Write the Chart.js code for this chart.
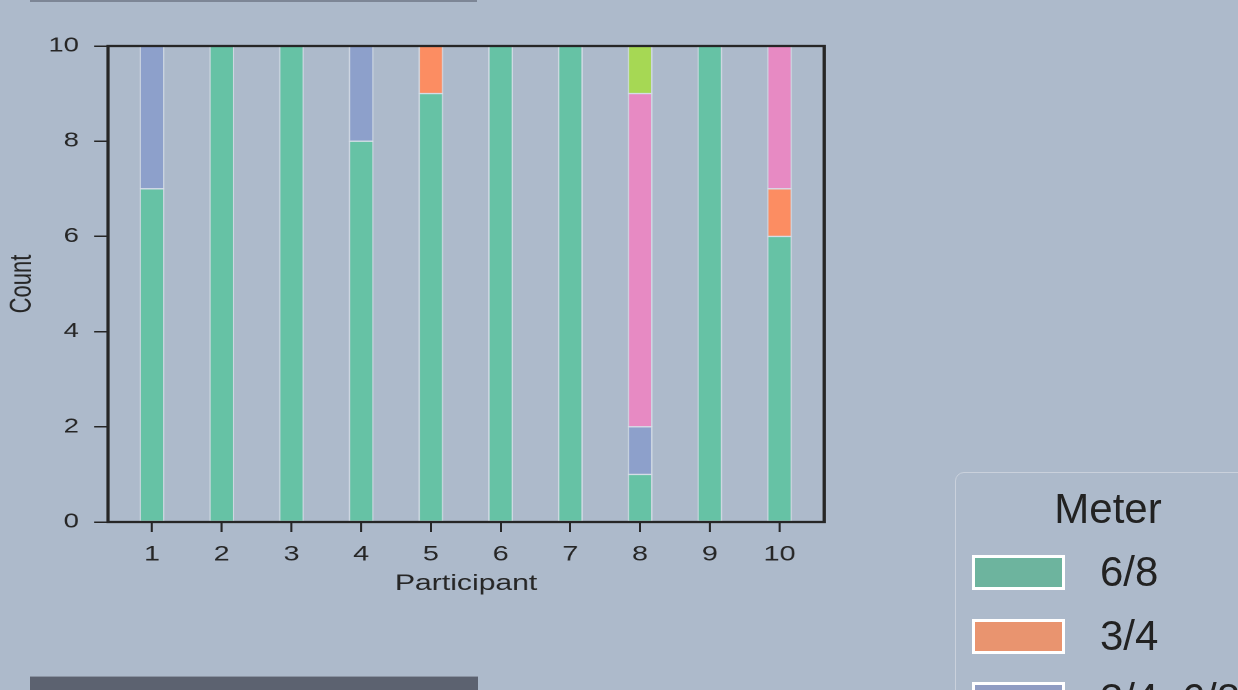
<!DOCTYPE html>
<html>
<head>
<meta charset="utf-8">
<script src="https://cdn.jsdelivr.net/npm/chart.js@4.4.1/dist/chart.umd.min.js"></script>
<style>
  html, body { margin:0; padding:0; width:1238px; height:690px; overflow:hidden; background:#adbacb; font-family:"Liberation Sans", Arial, sans-serif; }
  #wrap { position:absolute; left:0; top:0; width:904px; height:690px; transform:scaleX(1.3695); transform-origin:0 0; }
  .deco-top { position:absolute; left:30px; top:0; width:447px; height:1.5px; background:#7d8696; }
  .deco-bot { position:absolute; left:30px; top:676px; width:448px; height:14px; background:#5c6270; border-top:1px solid #8b94a3; box-sizing:border-box; }
  #legend { position:absolute; left:955px; top:472px; width:420px; height:320px; border:1.5px solid rgba(205,212,222,0.9); border-radius:9px; box-sizing:border-box; }
  #legend .title { position:absolute; left:0; width:304px; top:12px; text-align:center; font-size:42px; color:#222; line-height:48px; }
  #legend .item { position:absolute; left:16px; height:36px; }
  #legend .patch { position:absolute; left:0; top:0; width:87px; height:29px; border:3px solid #fff; }
  #legend .lab { position:absolute; left:128px; top:-7px; font-size:42px; line-height:48px; color:#222; white-space:nowrap; }
</style>
</head>
<body>
<div class="deco-top"></div>
<div id="wrap"><canvas id="c" width="904" height="690"></canvas></div>
<div class="deco-bot"></div>
<div id="legend"><div class="title">Meter</div></div>
<script>
// ---- data ----
const participants = [1, 2, 3, 4, 5, 6, 7, 8, 9, 10];
const meterNames = ['6/8', '3/4', '3/4, 6/8', '2/4', '4/4'];
const count68 = [7, 10, 10, 8, 9, 10, 10, 1, 10, 6];
const count34 = [0, 0, 0, 0, 1, 0, 0, 0, 0, 1];
const countMixed = [3, 0, 0, 2, 0, 0, 0, 1, 0, 0];
const count24 = [0, 0, 0, 0, 0, 0, 0, 7, 0, 3];
const count44 = [0, 0, 0, 0, 0, 0, 0, 1, 0, 0];
const yTicks = [0, 2, 4, 6, 8, 10];

const barColors = ['#66c2a5', '#fc8d62', '#8da0cb', '#e78ac3', '#a6d854'];
const legendColors = ['#6db49e', '#e9946f', '#909dc3', '#d68bb9', '#a3c95e'];
const seriesValues = [count68, count34, countMixed, count24, count44];

const datasets = seriesValues.map((vals, i) => ({
  label: meterNames[i],
  data: participants.map((p, j) => ({ x: p, y: vals[j] === 0 ? null : vals[j] })),
  backgroundColor: barColors[i],
  borderColor: 'rgba(235,240,245,0.55)',
  borderWidth: 1,
  borderSkipped: false,
  barThickness: 17.5,
  stack: 's'
}));

// HTML legend
const leg = document.getElementById('legend');
meterNames.forEach((name, i) => {
  const it = document.createElement('div');
  it.className = 'item';
  it.style.top = (82 + i * 63.7) + 'px';
  const p = document.createElement('div');
  p.className = 'patch';
  p.style.background = legendColors[i];
  const l = document.createElement('div');
  l.className = 'lab';
  l.textContent = name;
  it.appendChild(p); it.appendChild(l);
  leg.appendChild(it);
});

const ink = '#262626';
const FONT = '"Liberation Sans", Arial, sans-serif';
const framePlugin = {
  id: 'frame',
  afterDraw(chart) {
    const { ctx, chartArea: a } = chart;
    ctx.save();
    ctx.strokeStyle = ink;
    ctx.lineWidth = 2.3;
    ctx.strokeRect(a.left, a.top, a.right - a.left, a.bottom - a.top);
    ctx.restore();
  }
};

new Chart(document.getElementById('c'), {
  type: 'bar',
  data: { datasets },
  plugins: [framePlugin],
  options: {
    responsive: false,
    animation: false,
    devicePixelRatio: 2,
    layout: { padding: { left: 0, right: 302.2, top: 46, bottom: 0 } },
    plugins: { legend: { display: false }, tooltip: { enabled: false } },
    scales: {
      x: {
        type: 'linear',
        stacked: true,
        offset: false,
        min: 0.369,
        max: 10.64,
        afterBuildTicks(scale) { scale.ticks = participants.map(v => ({ value: v })); },
        afterFit(scale) { scale.height = 690 - 522; },
        ticks: { color: ink, font: { size: 21, family: FONT }, padding: 10, maxRotation: 0, autoSkip: false },
        grid: { offset: false, drawOnChartArea: false, drawTicks: true, tickLength: 10, color: ink, lineWidth: 1.5 },
        border: { display: false },
        title: { display: true, text: 'Participant', color: ink, font: { size: 22, family: FONT }, padding: { top: 0, bottom: 93 } }
      },
      y: {
        stacked: true,
        min: 0,
        max: 10,
        afterBuildTicks(scale) { scale.ticks = yTicks.map(v => ({ value: v })); },
        afterFit(scale) { scale.width = 78.85; },
        ticks: { color: ink, font: { size: 20, family: FONT }, padding: 11 },
        grid: { drawOnChartArea: false, drawTicks: true, tickLength: 10.2, color: ink, lineWidth: 1.5 },
        border: { display: false },
        title: { display: true, text: 'Count', color: ink, font: { size: 22, family: FONT }, padding: { top: 3, bottom: 0 } }
      }
    }
  }
});
</script>
</body>
</html>
